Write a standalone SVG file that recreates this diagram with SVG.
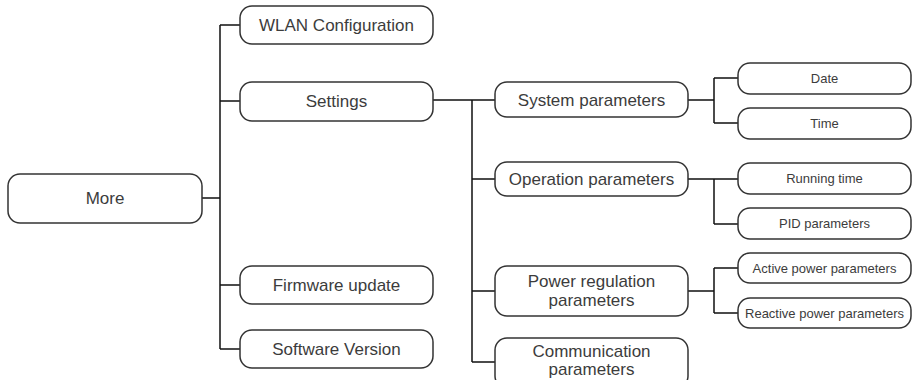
<svg xmlns="http://www.w3.org/2000/svg" width="913" height="380" viewBox="0 0 913 380">
<style>
.box{fill:#fff;stroke:#333;stroke-width:1.5}
.t{font-family:"Liberation Sans",Arial,sans-serif;font-size:17px;fill:#3c3c3c;text-anchor:middle}
.s{font-family:"Liberation Sans",Arial,sans-serif;font-size:13px;fill:#3c3c3c;text-anchor:middle}
.c{fill:none;stroke:#111;stroke-width:1.5}
</style>
<rect width="913" height="380" fill="#fff"/>
<g id="connectors">
<path class="c" d="M202,198H220M220,25V349M220,25H240M220,101H240M220,285H240M220,349H240"/>
<path class="c" d="M433,100H495M472,100V362M472,179H495M472,291H495M472,362H495"/>
<path class="c" d="M688,100H714M714,78V123M714,78H738M714,123H738"/>
<path class="c" d="M688,179H738M714,179V224M714,224H738"/>
<path class="c" d="M688,291H714M714,268V313M714,268H738M714,313H738"/>
</g>
<g id="more"><rect class="box" x="8" y="174" width="194" height="49" rx="12"/><text class="t" x="105" y="204">More</text></g>
<g id="wlan"><rect class="box" x="240" y="6" width="193" height="38" rx="12"/><text class="t" x="336.5" y="31">WLAN Configuration</text></g>
<g id="settings"><rect class="box" x="240" y="82" width="193" height="39" rx="12"/><text class="t" x="336.5" y="107">Settings</text></g>
<g id="firmware"><rect class="box" x="240" y="266" width="193" height="38" rx="12"/><text class="t" x="336.5" y="291">Firmware update</text></g>
<g id="software"><rect class="box" x="240" y="330" width="193" height="38" rx="12"/><text class="t" x="336.5" y="355">Software Version</text></g>
<g id="system"><rect class="box" x="495" y="82" width="193" height="35" rx="12"/><text class="t" x="591.5" y="106">System parameters</text></g>
<g id="operation"><rect class="box" x="495" y="162" width="193" height="34" rx="12"/><text class="t" x="591.5" y="185">Operation parameters</text></g>
<g id="power"><rect class="box" x="495" y="266" width="193" height="50" rx="12"/><text class="t" x="591.5" y="287">Power regulation</text><text class="t" x="591.5" y="306">parameters</text></g>
<g id="communication"><rect class="box" x="495" y="338" width="193" height="50" rx="12"/><text class="t" x="591.5" y="357">Communication</text><text class="t" x="591.5" y="375">parameters</text></g>
<g id="date"><rect class="box" x="738" y="63" width="173" height="31" rx="12"/><text class="s" x="824.5" y="83">Date</text></g>
<g id="time"><rect class="box" x="738" y="108" width="173" height="31" rx="12"/><text class="s" x="824.5" y="128">Time</text></g>
<g id="running"><rect class="box" x="738" y="163" width="173" height="31" rx="12"/><text class="s" x="824.5" y="183">Running time</text></g>
<g id="pid"><rect class="box" x="738" y="208" width="173" height="31" rx="12"/><text class="s" x="824.5" y="228">PID parameters</text></g>
<g id="active"><rect class="box" x="738" y="253" width="173" height="30" rx="12"/><text class="s" x="824.5" y="273">Active power parameters</text></g>
<g id="reactive"><rect class="box" x="738" y="298" width="173" height="30" rx="12"/><text class="s" x="824.5" y="318">Reactive power parameters</text></g>
</svg>
